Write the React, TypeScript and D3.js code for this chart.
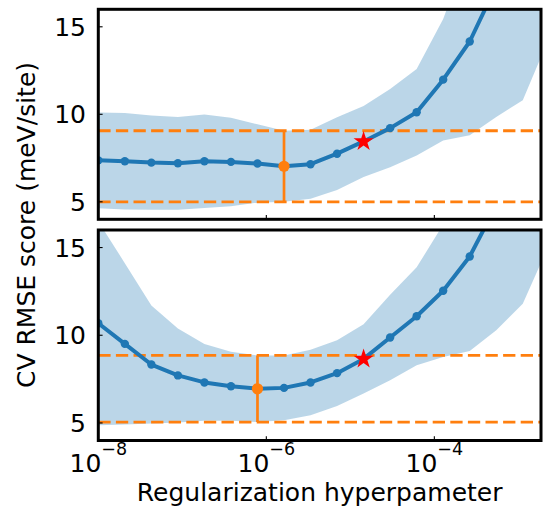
import React from 'react';
import * as d3 from 'd3';

// hyperparameter grid (log spaced)
const lambdas = [
  1e-8, 2.069e-8, 4.281e-8, 8.859e-8, 1.833e-7, 3.793e-7, 7.848e-7, 1.624e-6, 3.36e-6,
  6.952e-6, 1.438e-5, 2.976e-5, 6.158e-5, 1.274e-4, 2.637e-4, 5.456e-4, 1.129e-3, 2.336e-3,
];

// upper panel: CV mean and spread
const topMean = [7.37, 7.32, 7.24, 7.2, 7.32, 7.28, 7.19, 7.03, 7.15, 7.75, 8.45, 9.21, 10.12, 11.98, 14.16, 17.35, 21.5, 27];
const topStd = [2.74, 2.76, 2.69, 2.65, 2.67, 2.53, 2.24, 2.03, 1.97, 2.08, 2.03, 2.23, 2.47, 3.47, 5.36, 7.5, 10.7, 12.6];

// lower panel
const botMean = [10.68, 9.51, 8.33, 7.71, 7.31, 7.09, 6.95, 7.0, 7.31, 7.84, 8.65, 9.87, 11.08, 12.54, 14.49, 17.4, 21.3, 27];
const botStd = [5.81, 4.6, 3.36, 2.68, 2.19, 1.97, 1.9, 1.84, 1.87, 1.88, 1.97, 2.44, 2.79, 3.78, 5.39, 7.12, 9.5, 11.8];

const starIndex = 10;
const yTicks = [5, 10, 15];
const xTickExps = [-8, -6, -4];
const xDomain = [1e-8, 1.86e-3];
const yDomain = [4, 16];

const W = 543;
const H = 508;
const left = 98.3;
const right = 541;
const FONT = 'DejaVu Sans';
const BLUE = '#1f77b4';
const ORANGE = '#ff7f0e';

const x = d3.scaleLog().domain(xDomain).range([left, right]);

type PanelProps = { mean: number[]; std: number[]; top: number; bottom: number; id: string; labels: boolean };

const Panel = ({ mean, std, top, bottom, id, labels }: PanelProps) => {
  const y = d3.scaleLinear().domain(yDomain).range([bottom, top]);
  const pts = lambdas.map((lam, i) => ({ lam, m: mean[i], s: std[i], i }));
  const best = d3.minIndex(mean);
  const lo = mean[best] - std[best];
  const hi = mean[best] + std[best];

  const area = d3.area<typeof pts[0]>()
    .x((d) => x(d.lam))
    .y0((d) => y(d.m - d.s))
    .y1((d) => y(d.m + d.s));
  const line = d3.line<typeof pts[0]>()
    .x((d) => x(d.lam))
    .y((d) => y(d.m));
  const star = d3.symbol(d3.symbolStar, 124)();

  return (
    <g>
      <defs>
        <clipPath id={id}>
          <rect x={left} y={top} width={right - left} height={bottom - top} />
        </clipPath>
      </defs>
      <g clipPath={`url(#${id})`}>
        <path d={area(pts) ?? ''} fill={BLUE} fillOpacity={0.3} />
        {[lo, hi].map((v, k) => (
          <line key={k} x1={left} x2={right} y1={y(v)} y2={y(v)}
            stroke={ORANGE} strokeWidth={2.8} strokeDasharray="12.3,5.3" />
        ))}
        <line x1={x(lambdas[best])} x2={x(lambdas[best])} y1={y(lo)} y2={y(hi)}
          stroke={ORANGE} strokeWidth={2.7} />
        <path d={line(pts) ?? ''} fill="none" stroke={BLUE} strokeWidth={4} strokeLinejoin="round" />
        {pts.filter((d) => d.i !== starIndex && d.i !== best).map((d) => (
          <circle key={d.i} cx={x(d.lam)} cy={y(d.m)} r={4.2} fill={BLUE} />
        ))}
        <circle cx={x(lambdas[best])} cy={y(mean[best])} r={5.6} fill={ORANGE} />
        <path d={star ?? ''} transform={`translate(${x(lambdas[starIndex])},${y(mean[starIndex])})`} fill="#ff0000" />
      </g>
      {/* ticks, pointing inward */}
      {yTicks.map((t) => (
        <g key={t}>
          <line x1={left} x2={left + 4.3} y1={y(t)} y2={y(t)} stroke="#000" strokeWidth={1.1} />
          <text x={86} y={y(t)} dy="0.36em" textAnchor="end" fontFamily={FONT} fontSize={25}>{t}</text>
        </g>
      ))}
      {xTickExps.map((e) => (
        <g key={e}>
          <line x1={x(10 ** e)} x2={x(10 ** e)} y1={bottom} y2={bottom - 4.3} stroke="#000" strokeWidth={1.1} />
          {labels && (
            <text x={x(10 ** e)} y={bottom + 31} textAnchor="middle" fontFamily={FONT} fontSize={25}>
              10<tspan fontSize={17.5} dy={-16.5}>{`\u2212${-e}`}</tspan>
            </text>
          )}
        </g>
      ))}
      <rect x={left} y={top} width={right - left} height={bottom - top} fill="none" stroke="#000" strokeWidth={3} />
    </g>
  );
};

export default function App() {
  return (
    <svg width={W} height={H} style={{ position: 'absolute', left: 0, top: 0, background: '#fff' }}>
      <rect width={W} height={H} fill="#fff" />
      <Panel mean={topMean} std={topStd} top={9.3} bottom={219.3} id="clipTop" labels={false} />
      <Panel mean={botMean} std={botStd} top={230} bottom={440.5} id="clipBot" labels={true} />
      <text x={(left + right) / 2} y={501} textAnchor="middle" fontFamily={FONT} fontSize={25}>
        Regularization hyperpameter
      </text>
      <text transform={`translate(34.7,225) rotate(-90)`} textAnchor="middle" fontFamily={FONT} fontSize={25}>
        CV RMSE score (meV/site)
      </text>
    </svg>
  );
}
